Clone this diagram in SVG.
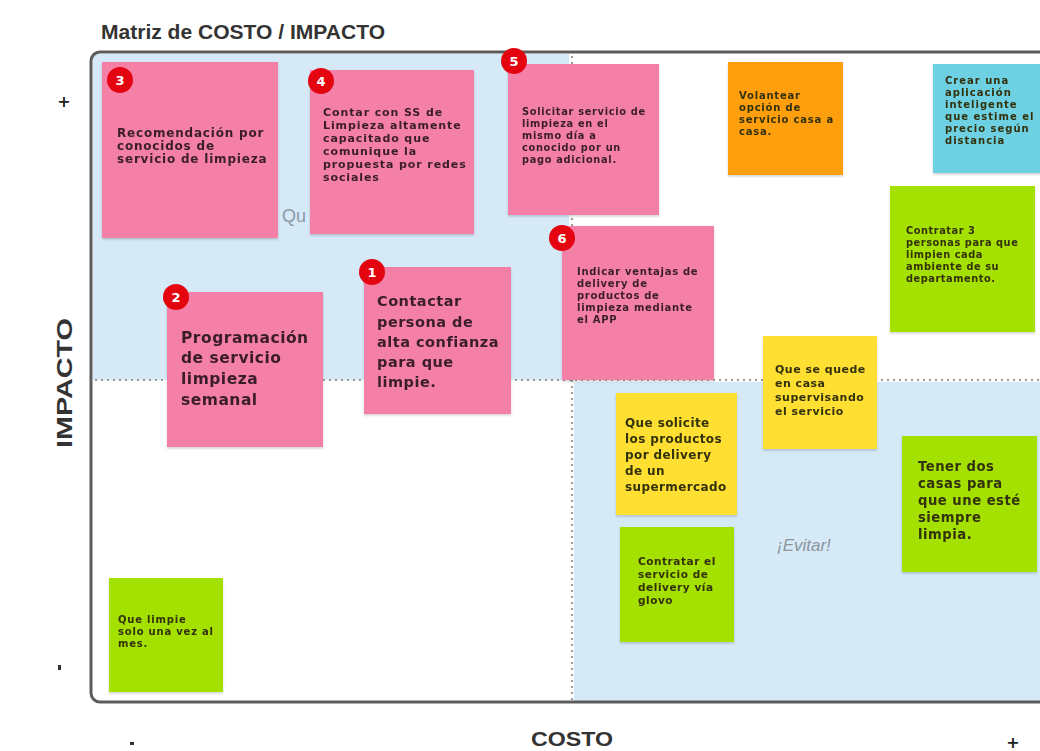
<svg xmlns="http://www.w3.org/2000/svg" width="1040" height="751" viewBox="0 0 1040 751">
  <style>
    .t { font-family: "DejaVu Sans", "Liberation Sans", sans-serif; font-weight: bold; }
    .dark { fill: #3a1e2a; }
    .ink { fill: #33300a; }
    .pink { fill: #f47fa7; }
    .orange { fill: #ff9f0a; }
    .cyan { fill: #6dd0e3; }
    .green { fill: #a4e000; }
    .yellow { fill: #ffe033; }
    .badge { fill: #e3040f; }
    .num { font-family: "DejaVu Sans", sans-serif; font-weight: bold; fill: #ffffff; font-size: 13px; text-anchor: middle; }
    .axis { font-family: "Liberation Sans", "DejaVu Sans", sans-serif; font-weight: bold; fill: #333333; }
    .sign { font-family: "DejaVu Sans", sans-serif; font-weight: bold; fill: #222222; text-anchor: middle; }
  </style>
  <defs>
    <filter id="shadow" x="-10%" y="-10%" width="130%" height="130%">
      <feDropShadow dx="0" dy="1.5" stdDeviation="1.2" flood-color="#000" flood-opacity="0.18"/>
    </filter>
  </defs>

  <rect width="1040" height="751" fill="#ffffff"/>

  <!-- title -->
  <text class="axis" x="101" y="39" font-size="20" textLength="284" lengthAdjust="spacingAndGlyphs">Matriz de COSTO / IMPACTO</text>

  <!-- quadrant shading -->
  <rect x="93" y="54" width="476" height="326" fill="#d5e9f7"/>
  <rect x="574" y="382" width="470" height="319" fill="#d5e9f7"/>
  <text x="282" y="222" font-family="Liberation Sans, sans-serif" font-size="18" fill="#8a9aa6">Qu</text>
  <text x="777" y="551" font-family="Liberation Sans, sans-serif" font-size="17" font-style="italic" fill="#8c949c">¡Evitar!</text>

  <!-- axes and frame -->
  <g id="connectors">
    <line x1="95" y1="380" x2="1040" y2="380" stroke="#9a9a9a" stroke-width="2" stroke-dasharray="2 4"/>
    <line x1="572" y1="56" x2="572" y2="700" stroke="#9a9a9a" stroke-width="2" stroke-dasharray="2 4"/>
    <rect x="91" y="52" width="970" height="650" rx="9" fill="none" stroke="#5c5c5c" stroke-width="3"/>
  </g>

  <!-- axis labels -->
  <text class="axis" font-size="22" text-anchor="middle" textLength="130" lengthAdjust="spacingAndGlyphs" transform="translate(72 383) rotate(-90)">IMPACTO</text>
  <text class="axis" x="572" y="746" font-size="21" text-anchor="middle" textLength="82" lengthAdjust="spacingAndGlyphs">COSTO</text>
  <text class="sign" x="64" y="107" font-size="16">+</text>
  <text class="sign" x="1013" y="748" font-size="16">+</text>
  <rect x="58" y="665" width="3" height="5" fill="#333"/>
  <rect x="130" y="742" width="4" height="3" fill="#333"/>

  <!-- sticky notes -->
  <g id="note-3" filter="url(#shadow)">
    <rect class="pink" x="102" y="62" width="176" height="176"/>
    <text class="t dark" font-size="12" letter-spacing="0.8"><tspan x="117" y="137">Recomendación por</tspan><tspan x="117" y="150">conocidos de</tspan><tspan x="117" y="163">servicio de limpieza</tspan></text>
  </g>
  <g id="note-4" filter="url(#shadow)">
    <rect class="pink" x="310" y="70" width="164" height="164"/>
    <text class="t dark" font-size="11" letter-spacing="0.9"><tspan x="323" y="116">Contar con SS de</tspan><tspan x="323" y="129">Limpieza altamente</tspan><tspan x="323" y="142">capacitado que</tspan><tspan x="323" y="155">comunique la</tspan><tspan x="323" y="168">propuesta por redes</tspan><tspan x="323" y="181">sociales</tspan></text>
  </g>
  <g id="note-5" filter="url(#shadow)">
    <rect class="pink" x="508" y="64" width="151" height="151"/>
    <text class="t dark" font-size="9.8" letter-spacing="0.7"><tspan x="522" y="115">Solicitar servicio de</tspan><tspan x="522" y="127">limpieza en el</tspan><tspan x="522" y="139">mismo día a</tspan><tspan x="522" y="151">conocido por un</tspan><tspan x="522" y="163">pago adicional.</tspan></text>
  </g>
  <g id="note-volantear" filter="url(#shadow)">
    <rect class="orange" x="728" y="62" width="115" height="113"/>
    <text class="t ink" font-size="10" letter-spacing="0.8"><tspan x="739" y="99">Volantear</tspan><tspan x="739" y="111">opción de</tspan><tspan x="739" y="123">servicio casa a</tspan><tspan x="739" y="135">casa.</tspan></text>
  </g>
  <g id="note-app" filter="url(#shadow)">
    <rect class="cyan" x="933" y="64" width="110" height="109"/>
    <text class="t ink" font-size="10" letter-spacing="1"><tspan x="945" y="84">Crear una</tspan><tspan x="945" y="96">aplicación</tspan><tspan x="945" y="108">inteligente</tspan><tspan x="945" y="120">que estime el</tspan><tspan x="945" y="132">precio según</tspan><tspan x="945" y="144">distancia</tspan></text>
  </g>
  <g id="note-contratar-3" filter="url(#shadow)">
    <rect class="green" x="890" y="186" width="145" height="146"/>
    <text class="t ink" font-size="9.8" letter-spacing="0.55"><tspan x="906" y="234">Contratar 3</tspan><tspan x="906" y="246">personas para que</tspan><tspan x="906" y="258">limpien cada</tspan><tspan x="906" y="270">ambiente de su</tspan><tspan x="906" y="282">departamento.</tspan></text>
  </g>
  <g id="note-6" filter="url(#shadow)">
    <rect class="pink" x="562" y="226" width="152" height="154"/>
    <text class="t dark" font-size="10" letter-spacing="0.7"><tspan x="577" y="275">Indicar ventajas de</tspan><tspan x="577" y="287">delivery de</tspan><tspan x="577" y="299">productos de</tspan><tspan x="577" y="311">limpieza mediante</tspan><tspan x="577" y="323">el APP</tspan></text>
  </g>
  <g id="note-2" filter="url(#shadow)">
    <rect class="pink" x="167" y="292" width="156" height="155"/>
    <text class="t dark" font-size="15.5" letter-spacing="0.5"><tspan x="181" y="343">Programación</tspan><tspan x="181" y="363">de servicio</tspan><tspan x="181" y="384">limpieza</tspan><tspan x="181" y="405">semanal</tspan></text>
  </g>
  <g id="note-1" filter="url(#shadow)">
    <rect class="pink" x="364" y="267" width="147" height="147"/>
    <text class="t dark" font-size="14.5" letter-spacing="0.5"><tspan x="377" y="306">Contactar</tspan><tspan x="377" y="327">persona de</tspan><tspan x="377" y="347">alta confianza</tspan><tspan x="377" y="367">para que</tspan><tspan x="377" y="387">limpie.</tspan></text>
  </g>
  <g id="note-supervisar" filter="url(#shadow)">
    <rect class="yellow" x="763" y="336" width="114" height="113"/>
    <text class="t ink" font-size="11" letter-spacing="0.5"><tspan x="775" y="373">Que se quede</tspan><tspan x="775" y="387">en casa</tspan><tspan x="775" y="401">supervisando</tspan><tspan x="775" y="415">el servicio</tspan></text>
  </g>
  <g id="note-supermercado" filter="url(#shadow)">
    <rect class="yellow" x="616" y="393" width="121" height="122"/>
    <text class="t ink" font-size="12" letter-spacing="0.4"><tspan x="625" y="427">Que solicite</tspan><tspan x="625" y="443">los productos</tspan><tspan x="625" y="459">por delivery</tspan><tspan x="625" y="475">de un</tspan><tspan x="625" y="491">supermercado</tspan></text>
  </g>
  <g id="note-glovo" filter="url(#shadow)">
    <rect class="green" x="620" y="527" width="114" height="115"/>
    <text class="t ink" font-size="10.5" letter-spacing="0.55"><tspan x="638" y="565">Contratar el</tspan><tspan x="638" y="578">servicio de</tspan><tspan x="638" y="591">delivery vía</tspan><tspan x="638" y="604">glovo</tspan></text>
  </g>
  <g id="note-dos-casas" filter="url(#shadow)">
    <rect class="green" x="902" y="436" width="135" height="136"/>
    <text class="t ink" font-size="13.2" letter-spacing="0.5"><tspan x="918" y="471">Tener dos</tspan><tspan x="918" y="488">casas para</tspan><tspan x="918" y="505">que une esté</tspan><tspan x="918" y="522">siempre</tspan><tspan x="918" y="539">limpia.</tspan></text>
  </g>
  <g id="note-mensual" filter="url(#shadow)">
    <rect class="green" x="109" y="578" width="114" height="114"/>
    <text class="t ink" font-size="10" letter-spacing="0.8"><tspan x="118" y="623">Que limpie</tspan><tspan x="118" y="635">solo una vez al</tspan><tspan x="118" y="647">mes.</tspan></text>
  </g>

  <!-- priority badges -->
  <g id="badge-3"><circle class="badge" cx="120" cy="80" r="13"/><text class="num" x="120" y="85">3</text></g>
  <g id="badge-4"><circle class="badge" cx="321" cy="81" r="13"/><text class="num" x="321" y="86">4</text></g>
  <g id="badge-5"><circle class="badge" cx="514" cy="61" r="13"/><text class="num" x="514" y="66">5</text></g>
  <g id="badge-6"><circle class="badge" cx="562" cy="238" r="13"/><text class="num" x="562" y="243">6</text></g>
  <g id="badge-2"><circle class="badge" cx="176" cy="297" r="13"/><text class="num" x="176" y="302">2</text></g>
  <g id="badge-1"><circle class="badge" cx="372" cy="272" r="13"/><text class="num" x="372" y="277">1</text></g>
</svg>
